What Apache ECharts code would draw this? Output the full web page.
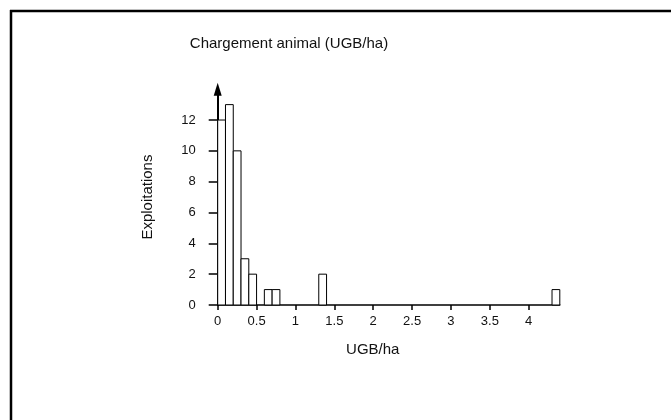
<!DOCTYPE html>
<html>
	<head>
		<meta charset="UTF-8">
		<title></title>
		<script src="https://cdn.jsdelivr.net/npm/echarts@6/dist/echarts.min.js"></script>
	</head>
	<body style="margin:0;background:#fff;">
		<div id="chart" style="width: 671px;height: 420px;"></div>
		<script type="text/javascript">
			// histogram bins (UGB/ha), width 0.1
			var binStart = [0, 0.1, 0.2, 0.3, 0.4, 0.6, 0.7, 1.3, 4.3];
			var counts = [12, 13, 10, 3, 2, 1, 1, 2, 1];
			var binWidth = 0.1;
			var xTicks = [0, 0.5, 1, 1.5, 2, 2.5, 3, 3.5, 4];
			var yTicks = [0, 2, 4, 6, 8, 10, 12];

			var data = [];
			for (var i = 0; i < binStart.length; i++) {
				data.push([binStart[i], binStart[i] + binWidth, counts[i]]);
			}

			var myChart = echarts.init(document.getElementById('chart'));
			var font = 'Liberation Sans, Arial, sans-serif';
			var option = {
				animation: false,
				title: {
					text: 'Chargement animal (UGB/ha)',
					left: 284,
					top: 31,
					textAlign: 'center',
					textStyle: {fontFamily: font, fontSize: 15, fontWeight: 'normal', color: '#111'}
				},
				grid: {left: 217.7, right: 111.2, top: 89.2, bottom: 115},
				xAxis: {
					type: 'value',
					min: 0,
					max: 4.4,
					interval: 0.5,
					name: 'UGB/ha',
					nameLocation: 'middle',
					nameGap: 37,
					nameTextStyle: {fontFamily: font, fontSize: 15, color: '#111', padding: [0, 32, 0, 0]},
					splitLine: {show: false},
					axisLine: {lineStyle: {color: '#000', width: 1.5}},
					axisTick: {customValues: xTicks, length: 5, lineStyle: {color: '#000', width: 1.5}},
					axisLabel: {customValues: xTicks, margin: 10, fontFamily: font, fontSize: 13, color: '#111'}
				},
				yAxis: {
					type: 'value',
					min: 0,
					max: 14,
					name: 'Exploitations',
					nameLocation: 'middle',
					nameGap: 62,
					nameTextStyle: {fontFamily: font, fontSize: 15, color: '#111'},
					splitLine: {show: false},
					axisLine: {
						show: true,
						symbol: ['none', 'triangle'],
						symbolSize: [8, 13],
						lineStyle: {color: '#000', width: 2}
					},
					axisTick: {show: true, customValues: yTicks, length: 9, lineStyle: {color: '#000', width: 1.5}},
					axisLabel: {customValues: yTicks, margin: 22, fontFamily: font, fontSize: 13, color: '#111'}
				},
				series: [{
					type: 'custom',
					data: data,
					encode: {x: [0, 1], y: 2},
					renderItem: function (params, api) {
						var p0 = api.coord([api.value(0), 0]);
						var p1 = api.coord([api.value(1), api.value(2)]);
						return {
							type: 'rect',
							shape: {x: p0[0], y: p1[1], width: p1[0] - p0[0], height: p0[1] - p1[1]},
							style: {fill: '#fff', stroke: '#000', lineWidth: 1}
						};
					}
				}],
				graphic: [
					{type: 'line', shape: {x1: 10, y1: 11, x2: 671, y2: 11}, style: {stroke: '#000', lineWidth: 2.5}},
					{type: 'line', shape: {x1: 11, y1: 10, x2: 11, y2: 420}, style: {stroke: '#000', lineWidth: 2.5}}
				]
			};
			myChart.setOption(option);
		</script>
	</body>
</html>
